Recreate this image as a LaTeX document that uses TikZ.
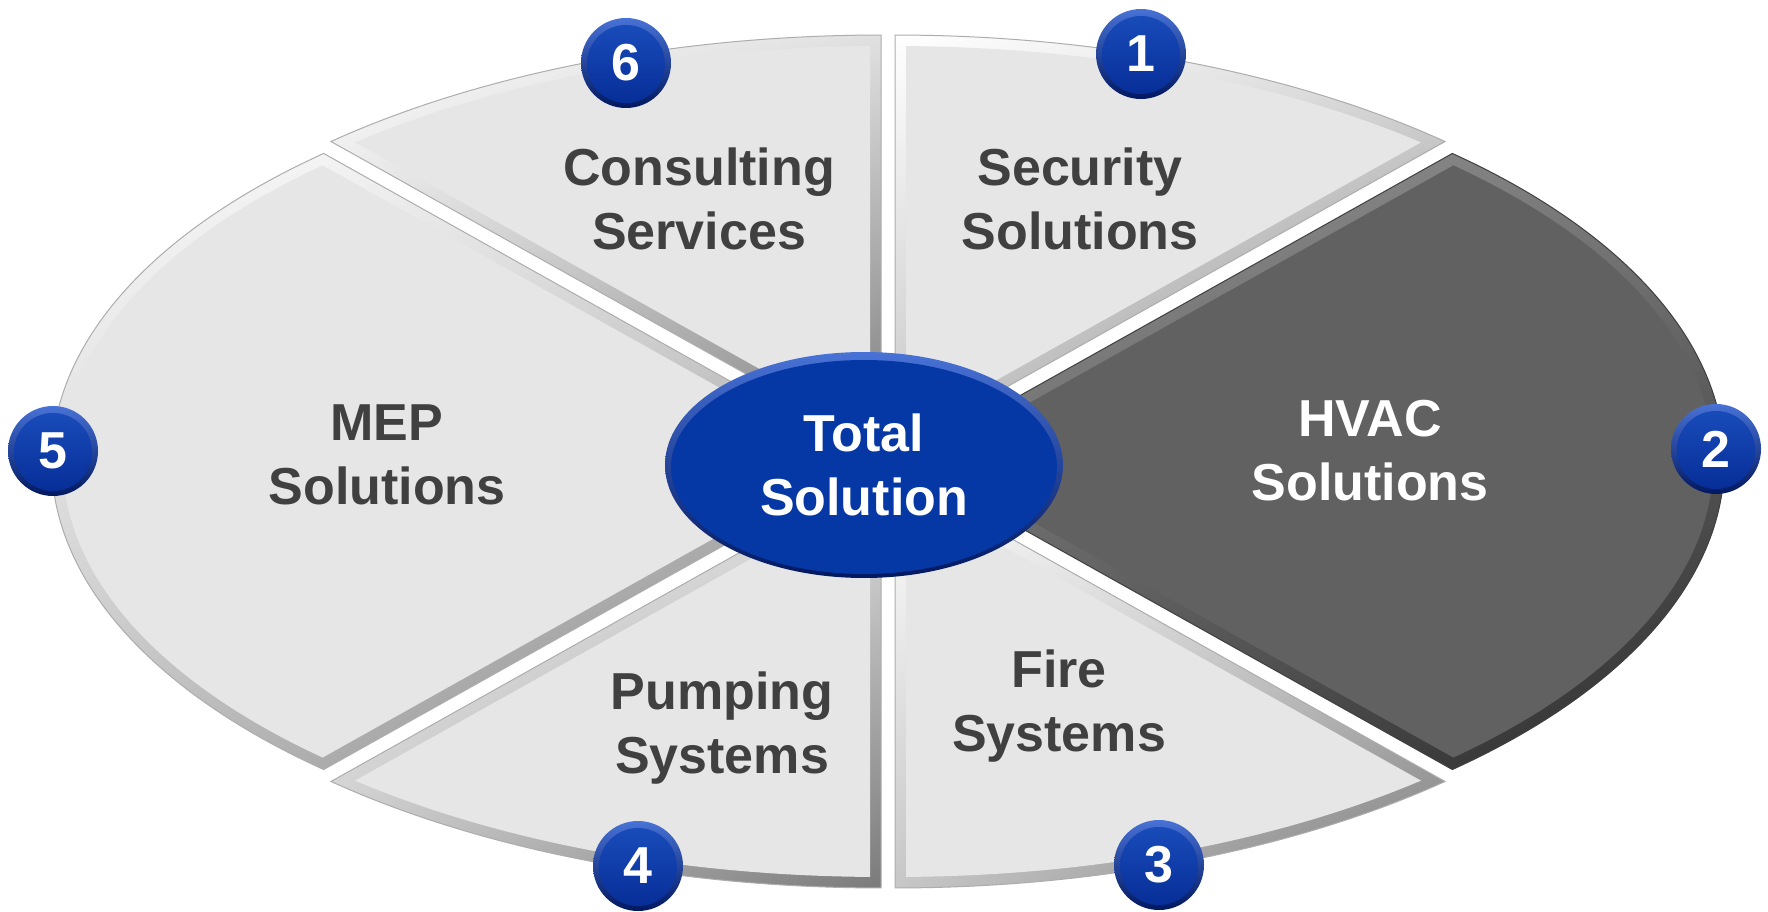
\documentclass[tikz,border=0pt]{standalone}
\usepackage{fontspec}
\setmainfont{Liberation Sans}
\usetikzlibrary{shapes.geometric, shadings}
\definecolor{facegray}{RGB}{230,230,230}
\definecolor{hvacgray}{RGB}{97,97,97}
\definecolor{labelgray}{RGB}{64,64,64}
\definecolor{hubblue}{RGB}{6,56,165}
\definecolor{hubtop}{RGB}{72,114,214}
\definecolor{hubbottom}{RGB}{2,24,96}
\definecolor{badgetop}{RGB}{26,78,188}
\definecolor{badgebottom}{RGB}{6,44,150}
\newcommand{\ctrx}{888}
\newcommand{\ctry}{449.5}
% shift x, shift y, start, end (ellipse angles), edge angles, look
\newcommand{\drawsector}[7]{%
	\begin{scope}[shift={(#1,#2)}]
		\shadedraw[#7 band] (\ctrx,\ctry) -- ++(#3:822 and 414.5) arc[start angle=#3, end angle=#4, x radius=822, y radius=414.5] -- cycle;
		\begin{scope}
			\clip (\ctrx+#1*1.5714,\ctry+#2*1.5714) -- +(#5:1500) -- +(#6:1500) -- cycle;
			\fill[#7 face] (\ctrx,\ctry) ellipse[x radius=811, y radius=403.5];
		\end{scope}
	\end{scope}}
\tikzset{
	light band/.style={upper left=white, upper right=black!12, lower left=black!22, lower right=black!52, draw=black!32, line width=1pt},
	light face/.style={fill=facegray},
	dark band/.style={upper left=black!42, upper right=black!52, lower left=black!64, lower right=black!85, draw=black!75, line width=1pt},
	dark face/.style={fill=hvacgray},
	sectorlabel/.style={font=\fontsize{52}{64}\selectfont\bfseries, text=labelgray, align=center, inner sep=0pt},
	hub/.style={ellipse, minimum width=398pt, minimum height=226pt, inner sep=0pt, top color=hubtop, bottom color=hubbottom, text=white, align=center, font=\fontsize{52}{64}\selectfont\bfseries,
		path picture={\fill[hubblue] ([yshift=-2pt]path picture bounding box.center) ellipse[x radius=193pt, y radius=107pt];}},
	badge/.style={circle, minimum size=90pt, inner sep=0pt, top color=hubtop, bottom color=hubbottom, text=white, font=\fontsize{52}{60}\selectfont\bfseries,
		path picture={\shade[top color=badgetop, bottom color=badgebottom] ([yshift=-1pt]path picture bounding box.center) circle[radius=39pt];}}
}
\begin{document}
\begin{tikzpicture}[x=1pt, y=1pt]
	\path[use as bounding box, fill=white] (0,0) rectangle (1768,911);
	\drawsector{7}{11.95}{48}{90}{29.25}{90}{light}
	\drawsector{14.3}{0}{-48}{48}{-29.25}{29.25}{dark}
	\drawsector{7}{-11.95}{-90}{-48}{-90}{-29.25}{light}
	\drawsector{-7}{-11.95}{228}{270}{209.25}{270}{light}
	\drawsector{-14.3}{0}{132}{228}{150.75}{209.25}{light}
	\drawsector{-7}{11.95}{90}{132}{90}{150.75}{light}

	\node[sectorlabel] (security) at (1080,712) {Security\\Solutions};
	\node[sectorlabel, text=white] (hvac) at (1370,460) {HVAC\\Solutions};
	\node[sectorlabel] (fire) at (1059,205) {Fire\\Systems};
	\node[sectorlabel] (pumping) at (722,183) {Pumping\\Systems};
	\node[sectorlabel] (mep) at (387,456) {MEP\\Solutions};
	\node[sectorlabel] (consulting) at (699,712) {Consulting\\Services};
	\node[hub] (total) at (864,446) {Total\\Solution};

	\foreach \n/\x/\y in {1/1141/857, 2/1716/462, 3/1159/46, 4/638/45, 5/53/460, 6/626/848}
		\node[badge] (badge\n) at (\x,\y) {\n};
\end{tikzpicture}
\end{document}
